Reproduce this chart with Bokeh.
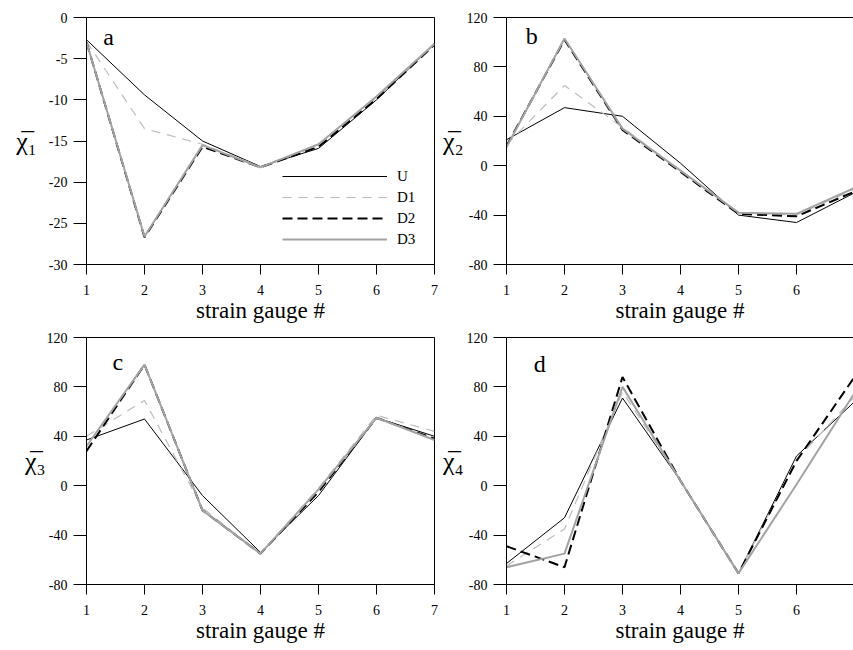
from bokeh.plotting import figure
from bokeh.models import Label, Legend, LegendItem, Range1d, LinearAxis, FixedTicker
from bokeh.layouts import column, row
from bokeh.embed import file_html
from bokeh.resources import INLINE

# ---------------- data ----------------
gauges = [1, 2, 3, 4, 5, 6, 7]
series_names = ["U", "D1", "D2", "D3"]

a_U = [-2.7, -9.4, -15.0, -18.1, -15.9, -10.0, -3.2]
a_D1 = [-2.9, -13.5, -15.4, -18.1, -15.6, -9.8, -3.2]
a_D2 = [-3.0, -26.7, -15.7, -18.2, -15.7, -9.9, -3.3]
a_D3 = [-3.0, -26.6, -15.5, -18.2, -15.4, -9.6, -3.2]

b_U = [21, 47, 40, 2, -40, -46, -22]
b_D1 = [17, 65, 31, -4, -38, -40, -19]
b_D2 = [16, 102, 29, -5, -39, -41, -21]
b_D3 = [15, 103, 30, -4, -38, -39, -18]

c_U = [37, 54, -8, -54, -8, 55, 40]
c_D1 = [40, 69, -18, -55, -2, 57, 44]
c_D2 = [28, 98, -20, -55, -5, 55, 38]
c_D3 = [32, 98, -20, -55, -3, 55, 37]

d_U = [-63, -26, 71, 4, -71, 24, 68]
d_D1 = [-65, -35, 76, 4, -71, 21, 72]
d_D2 = [-49, -66, 88, 4, -71, 20, 88]
d_D3 = [-66, -55, 80, 4, -71, 1, 75]

ticks_a = [0, -5, -10, -15, -20, -25, -30]
ticks_bcd = [-80, -40, 0, 40, 80, 120]

ylabels = ["\u03c7\u0305\u2081", "\u03c7\u0305\u2082", "\u03c7\u0305\u2083", "\u03c7\u0305\u2084"]
xlabel = "strain gauge #"

# ---------------- styles ----------------
STY = {
    "U": dict(line_color="black", line_width=1.0, line_dash="solid"),
    "D1": dict(line_color="#bdbdbd", line_width=1.2, line_dash="9 7"),
    "D2": dict(line_color="black", line_width=2.0, line_dash="10 5"),
    "D3": dict(line_color="#a3a3a3", line_width=2.0, line_dash="solid"),
}
FONT = "Liberation Serif"


def make_panel(series, yr, yticks, ylabel, letter, letter_xy, x_end, frame_w,
               mb_left, mb_right, mb_top, ylab_standoff, boxed, legend=False):
    p = figure(frame_width=frame_w, frame_height=247,
               x_range=Range1d(1, x_end), y_range=Range1d(*yr),
               output_backend="svg", toolbar_location=None,
               min_border_left=mb_left, min_border_right=mb_right,
               min_border_top=mb_top, min_border_bottom=0)
    p.xgrid.visible = False
    p.ygrid.visible = False
    p.background_fill_color = "white"
    p.border_fill_color = "white"

    xa = p.below[0]
    ya = p.left[0]
    for ax in (xa, ya):
        ax.axis_line_color = "black"
        ax.major_tick_line_color = "black"
        ax.minor_tick_line_color = None
        ax.major_tick_in = 0
        ax.major_label_text_font = FONT
        ax.major_label_text_font_size = "14px"
        ax.major_label_text_color = "black"
        ax.axis_label_text_font = FONT
        ax.axis_label_text_font_style = "normal"
        ax.axis_label_text_color = "black"

    xa.ticker = gauges
    xa.major_tick_out = 10
    xa.major_label_standoff = 10
    xa.axis_label = xlabel
    xa.axis_label_text_font_size = "23px"
    xa.axis_label_standoff = 0

    ya.ticker = yticks
    ya.major_label_overrides = {t: str(t) for t in yticks}
    ya.major_tick_out = 13
    ya.major_label_standoff = 6
    ya.axis_label = ylabel
    ya.axis_label_text_font_size = "26px"
    ya.axis_label_orientation = "horizontal"
    ya.axis_label_standoff = ylab_standoff

    if boxed:
        p.outline_line_color = "black"
        p.outline_line_alpha = 1.0
        p.outline_line_width = 1
    else:
        p.outline_line_color = None
        top = LinearAxis(ticker=FixedTicker(ticks=[]), axis_line_color="black",
                         major_tick_line_color=None, minor_tick_line_color=None,
                         major_tick_out=0, major_tick_in=0, minor_tick_out=0,
                         major_label_text_font_size="0px")
        p.add_layout(top, "above")

    rends = []
    for name, vals in zip(series_names, series):
        r = p.line(gauges, vals, **STY[name])
        rends.append(r)

    p.add_layout(Label(x=letter_xy[0], y=letter_xy[1], text=letter,
                       text_font=FONT, text_font_size="24px",
                       text_color="black", text_baseline="alphabetic"))

    if legend:
        lg = Legend(items=[LegendItem(label=n, renderers=[r]) for n, r in zip(series_names, rends)],
                    location=(196, 15), glyph_width=105, glyph_height=20,
                    label_height=20, label_standoff=10, spacing=1, padding=0,
                    margin=0, border_line_color=None, background_fill_alpha=0,
                    label_text_font=FONT, label_text_font_size="15px",
                    label_text_color="black")
        p.add_layout(lg)
    return p


pa = make_panel([a_U, a_D1, a_D2, a_D3], (-30, 0), ticks_a, ylabels[0],
                "a", (1.29, -2.35), 7, 348, 86, 5, 17, 9, True, legend=True)
pb = make_panel([b_U, b_D1, b_D2, b_D3], (-80, 120), ticks_bcd, ylabels[1],
                "b", (1.33, 104.7), 6.983, 347, 67, 0, 17, 0, False)
pc = make_panel([c_U, c_D1, c_D2, c_D3], (-80, 120), ticks_bcd, ylabels[2],
                "c", (1.45, 100.3), 7, 348, 86, 5, 12, -2, True)
pd_ = make_panel([d_U, d_D1, d_D2, d_D3], (-80, 120), ticks_bcd, ylabels[3],
                 "d", (1.47, 98.9), 6.983, 347, 67, 0, 12, 0, False)

layout = column(row(pa, pb), row(pc, pd_))
open("out.html", "w").write(file_html(layout, INLINE))
